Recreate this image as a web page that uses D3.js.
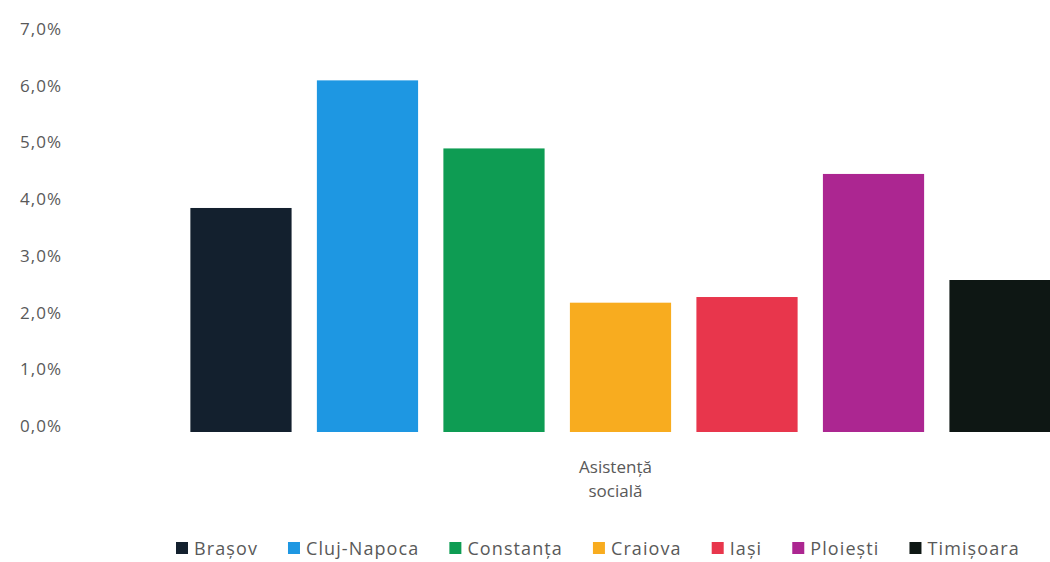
<!DOCTYPE html>
<html><head><meta charset="utf-8">
<script src="https://cdn.jsdelivr.net/npm/d3@7"></script>
<style>body{margin:0;background:#fff}svg{display:block}</style>
</head><body>
<svg id="c" width="1050" height="562"></svg>
<script>
const category = ["Asistență socială"];
const cities = ["Brașov","Cluj-Napoca","Constanța","Craiova","Iași","Ploiești","Timișoara"];
const values = [0.0395, 0.062, 0.050, 0.0228, 0.0238, 0.0455, 0.0268];
const colors = ["#13202e","#1e97e2","#0e9c53","#f8ac1f","#e8364c","#ac2691","#0e1714"];
const yTicks = [0,0.01,0.02,0.03,0.04,0.05,0.06,0.07];

const svg = d3.select("#c");
const font = "'Open Sans', 'Noto Sans', sans-serif";
const y = d3.scaleLinear().domain([0,0.07]).range([432,35]);
const x0 = d3.scaleBand().domain(category).range([75,1166]).paddingOuter(0.116).paddingInner(0);
const x1 = d3.scaleBand().domain(cities).range([0,x0.bandwidth()]).paddingInner(0.2).paddingOuter(0.1);

const fmt = v => d3.format(".1f")(v*100).replace(".", ",") + "%";
const yAxis = d3.axisLeft(y).tickValues(yTicks).tickFormat(fmt).tickSize(0).tickPadding(0);
const ga = svg.append("g").attr("transform","translate(62,-6)").call(yAxis);
ga.select(".domain").remove();
ga.selectAll("text").attr("font-family",font).attr("font-size",17).attr("letter-spacing",1).attr("fill","#595959");

const g = svg.append("g").attr("transform",`translate(${x0(category[0])},0)`);
g.selectAll("rect").data(values).join("rect")
  .attr("x",(d,i)=>x1(cities[i]))
  .attr("width",x1.bandwidth())
  .attr("y",d=>y(d))
  .attr("height",d=>y(0)-y(d))
  .attr("fill",(d,i)=>colors[i]);

const cx = x0(category[0]) + x0.bandwidth()/2 - 5;
const lab = svg.append("text").attr("text-anchor","middle").attr("font-family",font)
  .attr("font-size",17).attr("fill","#595959");
lab.append("tspan").attr("x",cx).attr("y",473).text("Asistență");
lab.append("tspan").attr("x",cx).attr("y",497).text("socială");

const leg = svg.append("g");
let lx = 176;
cities.forEach((c,i)=>{
  leg.append("rect").attr("x",lx).attr("y",542).attr("width",12).attr("height",12).attr("fill",colors[i]);
  const t = leg.append("text").attr("x",lx+18).attr("y",555).attr("font-family",font)
    .attr("font-size",18).attr("letter-spacing",1.1).attr("fill","#595959").text(c);
  lx += 18 + t.node().getComputedTextLength() + 30;
});
</script>
</body></html>
